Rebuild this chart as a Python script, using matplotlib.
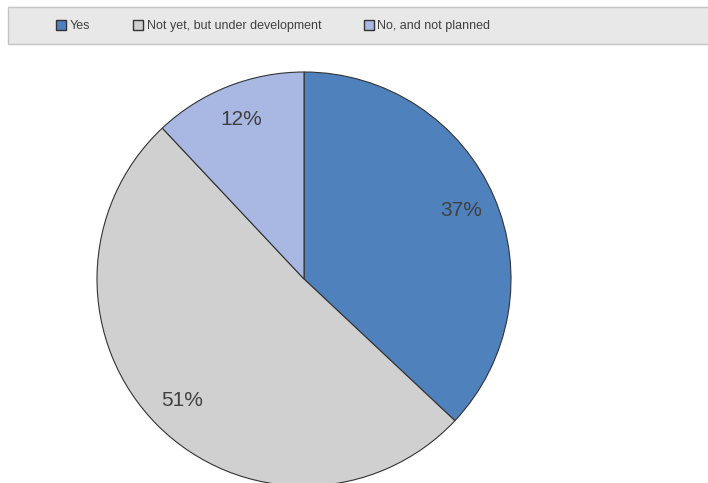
import matplotlib.pyplot as plt
from matplotlib.patches import Rectangle, Patch

# Data
labels = ["Yes", "Not yet, but under development", "No, and not planned"]
shares = [37, 51, 12]
colors = ["#4f81bd", "#d0d0d0", "#a8b8e2"]

fig = plt.figure(figsize=(7.08, 4.83), dpi=100)
plt.rcParams['font.family'] = ['Liberation Sans', 'DejaVu Sans']

# legend strip at top
fig.patches.append(Rectangle((8 / 708, 1 - 44 / 483), 1.0, 37 / 483,
                             transform=fig.transFigure, facecolor="#e8e8e8",
                             edgecolor="#c4c4c4", linewidth=1.0, zorder=0))

# pie axes: center (304, 279) px, radius 207 px
r = 207
ax = fig.add_axes([(304 - r) / 708, (483 - 279 - r) / 483, 2 * r / 708, 2 * r / 483])
wedges, texts, autotexts = ax.pie(
    shares, colors=colors, startangle=90, counterclock=False,
    autopct="%d%%", pctdistance=0.83,
    wedgeprops=dict(edgecolor="#333333", linewidth=0.8),
    textprops=dict(color="#404040", fontsize=15))
ax.set_xlim(-1, 1)
ax.set_ylim(-1, 1)
ax.set_aspect("equal")
ax.axis("off")

handles = [Patch(facecolor=c, edgecolor="#333333", linewidth=1.0) for c in colors]
fig.legend(handles, labels, loc="center", bbox_to_anchor=(0.386, 1 - 26 / 483),
           ncol=3, frameon=False, fontsize=9, handlelength=0.8, handleheight=0.8,
           handletextpad=0.3, columnspacing=3.4, labelcolor="#404040")

fig.savefig("out.png", dpi=100)
